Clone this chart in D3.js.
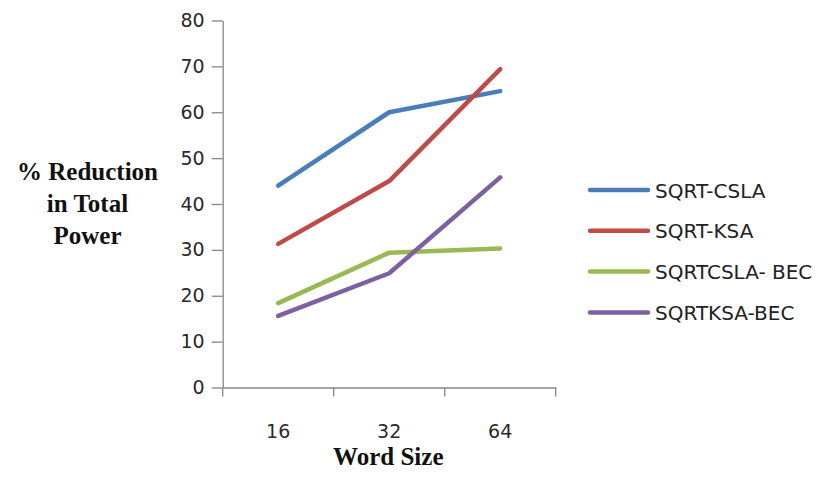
<!DOCTYPE html>
<html>
<head>
<meta charset="utf-8">
<script src="https://cdn.jsdelivr.net/npm/d3@7"></script>
<style>
  body { margin: 0; background: #fff; }
</style>
</head>
<body>
<div id="vis"></div>
<script>
const wordSizes = ["16", "32", "64"];
const seriesNames = ["SQRT-CSLA", "SQRT-KSA", "SQRTCSLA- BEC", "SQRTKSA-BEC"];
const sqrtCsla = [44, 60, 64.6];
const sqrtKsa = [31.3, 45, 69.4];
const sqrtCslaBec = [18.4, 29.4, 30.3];
const sqrtKsaBec = [15.6, 24.9, 45.8];
const yTicks = [0, 10, 20, 30, 40, 50, 60, 70, 80];

const colores = ["#4a7ebb", "#be4b48", "#98b954", "#7d60a0"];
const series = [sqrtCsla, sqrtKsa, sqrtCslaBec, sqrtKsaBec];

const width = 823;
const height = 480;

const SVG = d3.select("#vis").append("svg")
  .attr("width", width)
  .attr("height", height);

const x = d3.scaleBand().domain(wordSizes).range([222.7, 555.7]);
const y = d3.scaleLinear().domain([0, 80]).range([387.5, 20.5]);

// eje y
const gy = SVG.append("g")
  .attr("transform", `translate(${x.range()[0]},0)`)
  .call(d3.axisLeft(y).tickValues(yTicks).tickSize(11).tickSizeOuter(0).tickPadding(7));
gy.select(".domain").attr("stroke", "#868686").attr("stroke-width", 1.3);
gy.selectAll(".tick line").attr("stroke", "#868686").attr("stroke-width", 1.3);
gy.selectAll(".tick text")
  .attr("font-family", "DejaVu Sans")
  .attr("font-size", "19px")
  .attr("fill", "#2a2a2a");

// eje x: etiquetas en el centro, ticks en los bordes de cada banda
const gx = SVG.append("g")
  .attr("transform", `translate(0,${y(0)})`)
  .call(d3.axisBottom(x).tickSize(0).tickSizeOuter(0).tickPadding(37));
gx.select(".domain").attr("stroke", "#868686").attr("stroke-width", 1.3);
gx.selectAll(".tick text")
  .attr("font-family", "DejaVu Sans")
  .attr("font-size", "19px")
  .attr("fill", "#2a2a2a");

const bordes = wordSizes.map(d => x(d)).concat([x.range()[1]]);
gx.selectAll("line.borde")
  .data(bordes)
  .enter()
  .append("line")
  .attr("class", "borde")
  .attr("x1", d => d)
  .attr("x2", d => d)
  .attr("y1", 0)
  .attr("y2", 9)
  .attr("stroke", "#868686")
  .attr("stroke-width", 1.3);

// lineas
const linea = d3.line()
  .x((d, i) => x(wordSizes[i]) + x.bandwidth() / 2)
  .y(d => y(d));

SVG.selectAll("path.serie")
  .data(series)
  .enter()
  .append("path")
  .attr("class", "serie")
  .attr("d", linea)
  .attr("fill", "none")
  .attr("stroke", (d, i) => colores[i])
  .attr("stroke-width", 4.5)
  .attr("stroke-linecap", "round")
  .attr("stroke-linejoin", "round");

// titulo eje y
const tituloY = ["% Reduction", "in Total", "Power"];
SVG.selectAll("text.tituloY")
  .data(tituloY)
  .enter()
  .append("text")
  .attr("class", "tituloY")
  .attr("x", 87.5)
  .attr("y", (d, i) => 180 + i * 32)
  .attr("text-anchor", "middle")
  .attr("font-family", "Liberation Serif")
  .attr("font-weight", "bold")
  .attr("font-size", "25px")
  .attr("fill", "#111")
  .text(d => d);

// titulo eje x
SVG.append("text")
  .attr("x", 388.3)
  .attr("y", 465)
  .attr("text-anchor", "middle")
  .attr("font-family", "Liberation Serif")
  .attr("font-weight", "bold")
  .attr("font-size", "25px")
  .attr("fill", "#111")
  .text("Word Size");

// leyenda
const leyenda = SVG.selectAll("g.leyenda")
  .data(seriesNames)
  .enter()
  .append("g")
  .attr("class", "leyenda")
  .attr("transform", (d, i) => `translate(590,${190 + i * 40.8})`);

leyenda.append("line")
  .attr("x1", 0)
  .attr("x2", 58)
  .attr("stroke", (d, i) => colores[i])
  .attr("stroke-width", 4.5)
  .attr("stroke-linecap", "round");

leyenda.append("text")
  .attr("x", 65)
  .attr("y", 7.5)
  .attr("font-family", "DejaVu Sans")
  .attr("font-size", "20px")
  .attr("fill", "#222")
  .text(d => d);
</script>
</body>
</html>
